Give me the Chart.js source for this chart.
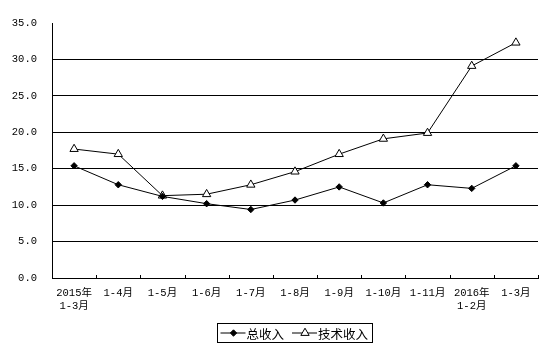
<!DOCTYPE html>
<html>
<head>
<meta charset="utf-8">
<script src="https://cdn.jsdelivr.net/npm/chart.js@4"></script>
<style>
  html, body { margin: 0; padding: 0; background: #fff; }
  #wrap { width: 553px; height: 351px; position: relative; }
</style>
</head>
<body>
<div id="wrap"><canvas id="chart" width="553" height="351"></canvas></div>
<script>
// categories (two-line labels where the original wraps)
const months = [
  ['2015年', '1-3月'], '1-4月', '1-5月', '1-6月', '1-7月', '1-8月',
  '1-9月', '1-10月', '1-11月', ['2016年', '1-2月'], '1-3月'
];
const totalIncome = [15.4, 12.8, 11.2, 10.2, 9.4, 10.7, 12.5, 10.3, 12.8, 12.3, 15.4];
const techIncome  = [17.7, 17.0, 11.3, 11.5, 12.8, 14.6, 17.0, 19.1, 19.9, 29.1, 32.3];
const seriesNames = ['总收入', '技术收入'];
const yTicks = [0, 5, 10, 15, 20, 25, 30, 35];

const tickFont = { family: '"Liberation Mono", "Noto Sans CJK SC", monospace', size: 10.5 };

const markerStyles = [
  { pointStyle: 'rectRot', radius: 3.2, backgroundColor: '#000', borderColor: '#000', borderWidth: 1 },
  { pointStyle: 'triangle', radius: 4.8, backgroundColor: '#fff', borderColor: '#000', borderWidth: 1 },
];

// small tick marks sitting on top of the x axis, and the boxed legend
const extras = {
  id: 'extras',
  afterDraw(chart) {
    const ctx = chart.ctx;
    const x = chart.scales.x;
    const area = chart.chartArea;
    const step = x.getPixelForTick(1) - x.getPixelForTick(0);
    ctx.save();
    ctx.strokeStyle = '#000';
    ctx.lineWidth = 1;
    for (let i = 0; i <= months.length; i++) {
      const px = Math.round(x.getPixelForTick(0) - step / 2 + i * step) + 0.5;
      ctx.beginPath();
      ctx.moveTo(px, area.bottom);
      ctx.lineTo(px, area.bottom - 3);
      ctx.stroke();
    }

    // legend
    const boxL = 217.5, boxT = 323.5, boxW = 155, boxH = 19;
    const cy = boxT + boxH / 2;
    ctx.strokeRect(boxL, boxT, boxW, boxH);
    ctx.font = '12.5px "Noto Sans CJK SC", sans-serif';
    ctx.textBaseline = 'middle';
    let cx = boxL + 3;
    seriesNames.forEach((name, i) => {
      const m = markerStyles[i];
      ctx.strokeStyle = '#000';
      ctx.beginPath();
      ctx.moveTo(cx, cy);
      ctx.lineTo(cx + 25, cy);
      ctx.stroke();
      ctx.fillStyle = m.backgroundColor;
      ctx.strokeStyle = m.borderColor;
      Chart.helpers.drawPoint(ctx, { ...m, rotation: 0 }, cx + 13, cy);
      ctx.fillStyle = '#000';
      ctx.fillText(name, cx + 26, cy + 1);
      cx += 26 + ctx.measureText(name).width + 8;
    });
    ctx.restore();
  }
};

new Chart(document.getElementById('chart'), {
  type: 'line',
  data: {
    labels: months,
    datasets: [totalIncome, techIncome].map((d, i) => ({
      label: seriesNames[i],
      data: d,
      borderColor: '#000',
      borderWidth: 1,
      pointStyle: markerStyles[i].pointStyle,
      pointRadius: markerStyles[i].radius,
      pointBackgroundColor: markerStyles[i].backgroundColor,
      pointBorderColor: markerStyles[i].borderColor,
      pointBorderWidth: 1,
      tension: 0,
    })),
  },
  options: {
    responsive: false,
    animation: false,
    layout: { padding: { top: 23, right: 15, left: 0, bottom: 0 } },
    plugins: { legend: { display: false }, tooltip: { enabled: false } },
    scales: {
      x: {
        offset: true,
        grid: { display: false, drawTicks: false },
        border: { display: true, color: '#000', width: 1 },
        ticks: { color: '#000', font: tickFont, padding: 9, maxRotation: 0, autoSkip: false },
        afterFit(s) { s.height = 73; },
      },
      y: {
        min: yTicks[0],
        max: yTicks[yTicks.length - 1],
        afterBuildTicks(s) { s.ticks = yTicks.map(v => ({ value: v })); },
        grid: {
          drawTicks: false,
          color: c => (c.tick && (c.tick.value === 0 || c.tick.value === 35)) ? 'rgba(0,0,0,0)' : '#000',
          lineWidth: 1,
        },
        border: { display: true, color: '#000', width: 1 },
        ticks: { color: '#000', font: tickFont, padding: 15, callback: v => Number(v).toFixed(1) },
        afterFit(s) { s.width = 52; },
      },
    },
  },
  plugins: [extras],
});
</script>
</body>
</html>
